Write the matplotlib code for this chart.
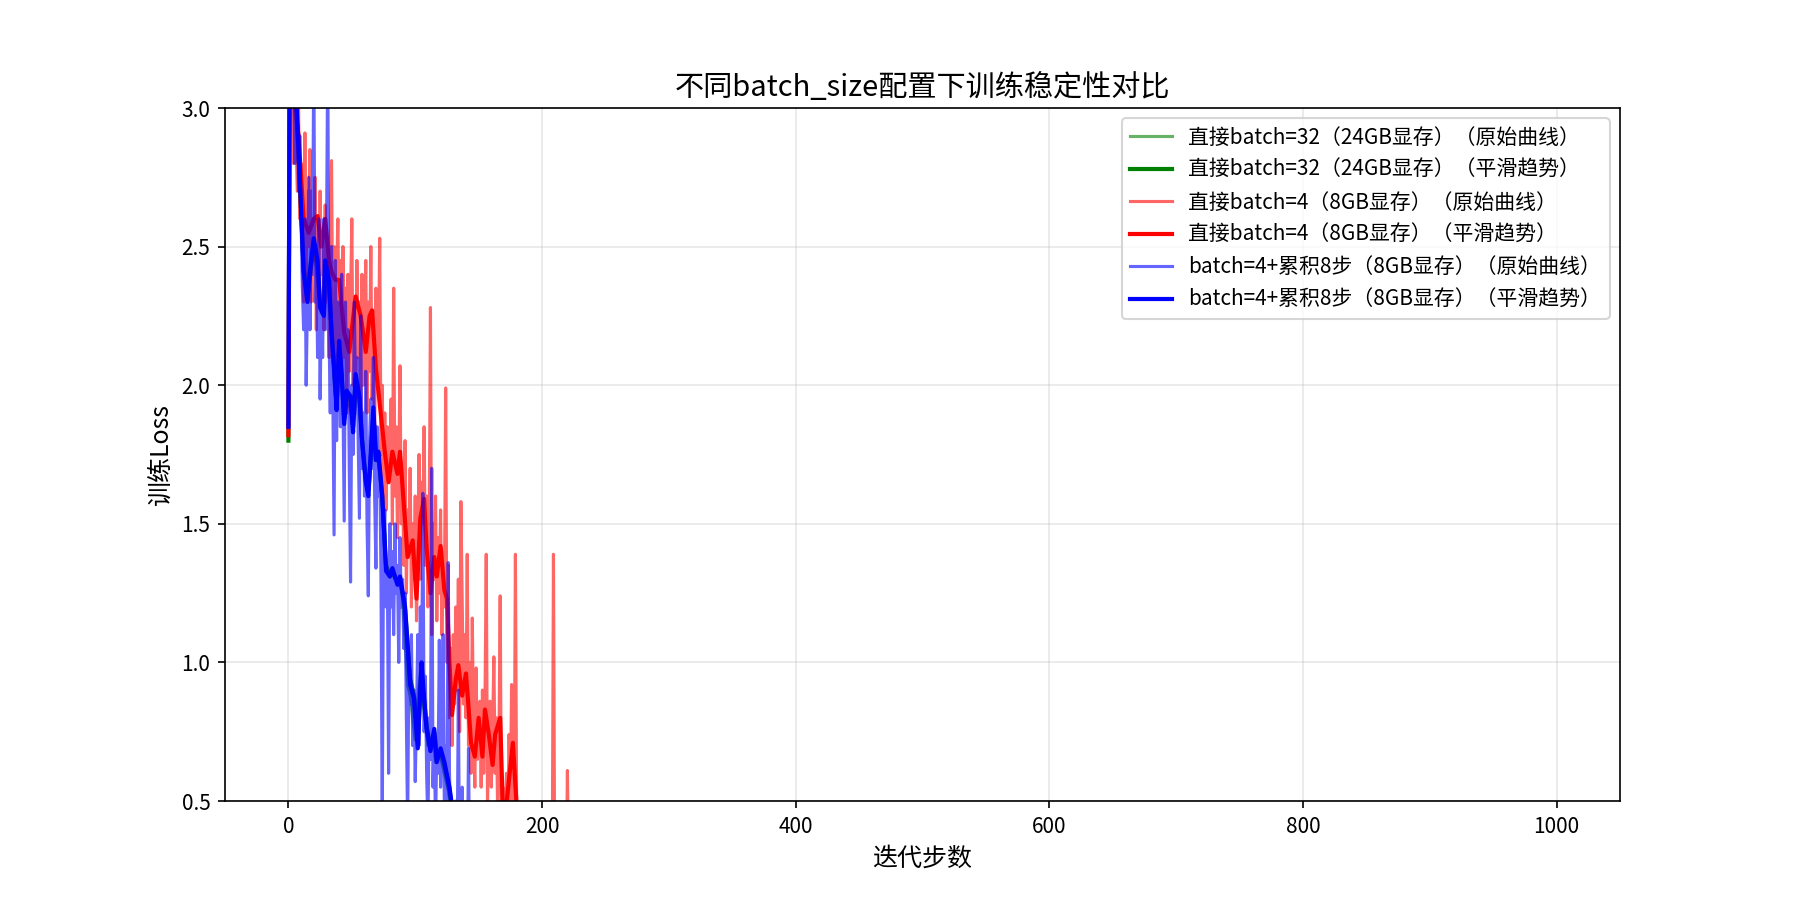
import numpy as np
import matplotlib
matplotlib.use("Agg")
import matplotlib.pyplot as plt

plt.rcParams['font.family'] = ['Noto Sans CJK SC', 'DejaVu Sans']
plt.rcParams['axes.unicode_minus'] = False

# 直接batch=32: raw loss every 2 steps, plus smoothed trend (mostly hidden under blue)
g_steps = list(range(0, 132, 2))
g_raw = [3.05, 3.15, 3.05, 3.00, 2.80, 2.60, 2.45, 2.35, 2.40, 2.48,
         2.50, 2.42, 2.32, 2.26, 2.30, 2.40, 2.36, 2.20, 2.02, 1.92,
         2.12, 2.02, 1.90, 1.92, 1.96, 1.86, 1.88, 2.00, 1.96, 1.82,
         1.70, 1.62, 1.64, 1.80, 1.86, 1.74, 1.70, 1.56, 1.40, 1.32,
         1.32, 1.32, 1.30, 1.30, 1.30, 1.24, 1.08, 0.92, 0.88, 0.80,
         0.72, 0.86, 0.96, 0.86, 0.78, 0.70, 0.70, 0.74, 0.64, 0.68,
         0.66, 0.62, 0.58, 0.54, 0.48, 0.42]
g_sm_steps = [0, 1, 3, 6, 9, 12, 15, 17, 20, 23, 25, 28, 29, 32, 34, 36, 38,
              40, 42, 44, 46, 49, 51, 53, 56, 58, 61, 63, 65, 67, 69, 71, 74,
              77, 80, 82, 86, 88, 92, 96, 99, 102, 105, 107, 109, 112, 115,
              117, 120, 123, 127, 130]
g_smooth = [1.80, 3.15, 3.08, 3.02, 2.72, 2.42, 2.31, 2.40, 2.50, 2.43, 2.29,
            2.26, 2.42, 2.36, 2.20, 2.07, 1.93, 2.13, 2.03, 1.88, 1.97, 1.95,
            1.85, 2.02, 1.95, 1.81, 1.66, 1.62, 1.74, 1.89, 1.73, 1.74, 1.60,
            1.35, 1.31, 1.33, 1.29, 1.30, 1.19, 0.94, 0.88, 0.72, 0.97, 0.86,
            0.77, 0.69, 0.75, 0.65, 0.68, 0.63, 0.54, 0.44]

# 直接batch=4: raw loss every step
r_steps = list(range(0, 230))
r_raw = [3.30, 3.40, 3.00, 3.20, 2.80, 3.10, 2.90, 2.70, 3.00, 2.60,
         2.80, 2.50, 2.30, 2.91, 2.40, 2.70, 2.50, 2.85, 2.30, 2.60,
         2.45, 2.75, 2.20, 2.60, 2.35, 2.70, 2.40, 2.55, 2.20, 2.65,
         2.30, 2.50, 2.10, 2.45, 2.81, 2.20, 2.50, 2.05, 2.40, 2.60,
         2.15, 2.45, 2.00, 2.50, 2.10, 2.35, 1.90, 2.40, 2.05, 2.30,
         2.60, 2.00, 2.25, 1.95, 2.45, 2.10, 2.30, 1.85, 2.40, 2.00,
         2.20, 2.45, 1.90, 2.30, 2.05, 2.50, 1.95, 2.20, 1.80, 2.35,
         2.00, 2.10, 2.53, 1.75, 2.00, 1.60, 1.90, 1.55, 1.85, 1.65,
         1.70, 1.95, 1.50, 2.35, 1.60, 1.85, 1.45, 1.70, 2.07, 1.50,
         1.65, 1.35, 1.80, 1.25, 1.55, 1.40, 1.70, 1.20, 1.50, 1.30,
         1.60, 1.15, 1.40, 1.75, 1.30, 1.65, 1.50, 1.85, 1.35, 1.60,
         1.20, 1.45, 2.28, 1.10, 1.50, 1.30, 1.60, 1.15, 1.45, 1.25,
         1.55, 1.10, 1.40, 1.20, 1.99, 1.00, 1.35, 0.80, 1.05, 0.70,
         1.10, 0.85, 1.20, 0.90, 1.30, 0.75, 1.58, 1.24, 0.85, 1.10,
         0.80, 1.39, 0.70, 1.00, 0.60, 1.16, 0.75, 0.55, 0.98, 0.65,
         0.80, 0.86, 0.55, 0.90, 0.60, 0.85, 1.39, 0.50, 0.70, 0.86,
         0.55, 0.75, 1.02, 0.60, 0.80, 0.45, 0.70, 1.24, 0.40, 0.55,
         0.35, 0.45, 0.60, 0.40, 0.74, 0.50, 0.92, 0.65, 0.45, 1.39,
         0.45, 0.30, 0.40, 0.25, 0.35, 0.20, 0.30, 0.25, 0.35, 0.20,
         0.30, 0.20, 0.25, 0.30, 0.15, 0.25, 0.20, 0.30, 0.15, 0.20,
         0.25, 0.15, 0.20, 0.30, 0.15, 0.20, 0.25, 0.15, 0.20, 1.39,
         0.20, 0.15, 0.25, 0.20, 0.15, 0.20, 0.25, 0.15, 0.20, 0.15,
         0.61, 0.20, 0.15, 0.20, 0.15, 0.20, 0.15, 0.20, 0.15, 0.10]
r_sm_steps = [0, 1, 4, 8, 12, 16, 20, 23, 26, 29, 32, 34, 37, 40, 44, 48, 50,
              53, 57, 61, 64, 66, 69, 73, 76, 79, 82, 86, 88, 91, 94, 98, 101,
              104, 107, 109, 112, 115, 117, 120, 123, 125, 127, 129, 132, 134,
              137, 140, 142, 144, 147, 150, 153, 155, 158, 161, 163, 167, 169,
              171, 174, 177, 180, 183]
r_smooth = [1.82, 3.10, 3.05, 2.90, 2.60, 2.55, 2.60, 2.61, 2.50, 2.60, 2.45,
            2.41, 2.38, 2.38, 2.19, 2.12, 2.20, 2.32, 2.25, 2.12, 2.25, 2.27,
            2.06, 1.89, 1.76, 1.65, 1.76, 1.68, 1.76, 1.57, 1.38, 1.44, 1.23,
            1.52, 1.59, 1.41, 1.25, 1.38, 1.31, 1.42, 1.26, 1.23, 1.00, 0.81,
            0.94, 0.99, 0.88, 0.96, 0.84, 0.71, 0.66, 0.80, 0.66, 0.83, 0.74,
            0.63, 0.74, 0.80, 0.48, 0.45, 0.58, 0.71, 0.48, 0.30]

# batch=4+累积8步: raw loss every step
b_steps = list(range(0, 150))
b_raw = [3.20, 3.40, 3.30, 3.10, 3.20, 2.80, 3.00, 3.10, 2.70, 2.90,
         2.60, 2.35, 2.20, 2.60, 2.00, 2.30, 2.75, 2.20, 2.70, 2.40,
         3.20, 2.30, 2.50, 2.10, 2.60, 1.95, 2.30, 2.10, 2.60, 2.20,
         2.50, 3.20, 2.20, 1.90, 2.50, 2.00, 1.46, 2.45, 1.80, 2.30,
         2.10, 1.85, 2.40, 1.95, 1.51, 2.30, 1.90, 2.20, 1.70, 1.29,
         2.00, 1.75, 2.30, 1.90, 2.10, 1.80, 1.52, 2.25, 1.70, 1.90,
         1.60, 2.05, 1.50, 1.24, 1.80, 1.95, 1.70, 2.10, 1.60, 1.34,
         1.85, 1.60, 1.75, 1.30, 0.40, 1.45, 1.55, 1.20, 1.35, 0.60,
         1.50, 1.20, 1.40, 1.10, 1.50, 1.25, 1.35, 1.00, 1.45, 1.20,
         1.30, 1.05, 1.25, 0.80, 0.40, 1.00, 0.85, 1.10, 0.70, 0.90,
         0.57, 0.80, 1.10, 0.70, 1.20, 0.90, 1.61, 0.75, 0.95, 0.60,
         0.40, 0.80, 0.65, 1.70, 0.55, 0.75, 0.40, 0.70, 0.60, 1.08,
         0.55, 0.75, 1.10, 0.45, 0.70, 0.50, 1.36, 0.60, 0.40, 0.30,
         0.45, 0.30, 0.50, 0.25, 0.90, 0.20, 0.30, 0.55, 0.20, 0.15,
         0.30, 0.20, 0.69, 0.20, 0.15, 0.25, 0.20, 0.15, 0.20, 0.10]
b_sm_steps = [0, 1, 3, 6, 9, 12, 15, 17, 20, 23, 25, 28, 29, 32, 34, 36, 38,
              40, 42, 44, 46, 49, 51, 53, 56, 58, 61, 63, 65, 67, 69, 71, 74,
              77, 80, 82, 86, 88, 92, 96, 99, 102, 105, 107, 109, 112, 115,
              117, 120, 123, 127, 130]
b_smooth = [1.85, 3.20, 3.10, 3.05, 2.75, 2.41, 2.30, 2.41, 2.53, 2.45, 2.28,
            2.25, 2.45, 2.38, 2.19, 2.06, 1.91, 2.16, 2.04, 1.86, 1.98, 1.96,
            1.83, 2.04, 1.96, 1.80, 1.65, 1.60, 1.76, 1.92, 1.73, 1.76, 1.60,
            1.33, 1.31, 1.34, 1.28, 1.31, 1.20, 0.92, 0.87, 0.69, 1.00, 0.87,
            0.76, 0.68, 0.76, 0.64, 0.69, 0.64, 0.55, 0.45]

names = ['直接batch=32（24GB显存）', '直接batch=4（8GB显存）', 'batch=4+累积8步（8GB显存）']
colors = ['green', 'red', 'blue']

series = [
    (g_steps, g_raw, g_sm_steps, g_smooth),
    (r_steps, r_raw, r_sm_steps, r_smooth),
    (b_steps, b_raw, b_sm_steps, b_smooth),
]

fig, ax = plt.subplots(figsize=(12, 6), dpi=150)

for (xs, raw, sx, sm), name, c in zip(series, names, colors):
    ax.plot(xs, raw, color=c, alpha=0.6, linewidth=1.5, label=name + '（原始曲线）')
    ax.plot(sx, sm, color=c, linewidth=2, label=name + '（平滑趋势）')

ax.set_xlim(-50, 1050)
ax.set_ylim(0.5, 3.0)
ax.set_title('不同batch_size配置下训练稳定性对比', fontsize=14)
ax.set_xlabel('迭代步数', fontsize=12)
ax.set_ylabel('训练Loss', fontsize=12)
ax.grid(True, alpha=0.3)
ax.legend(loc='upper right', fontsize=10)

fig.savefig('out.png', dpi=150)
